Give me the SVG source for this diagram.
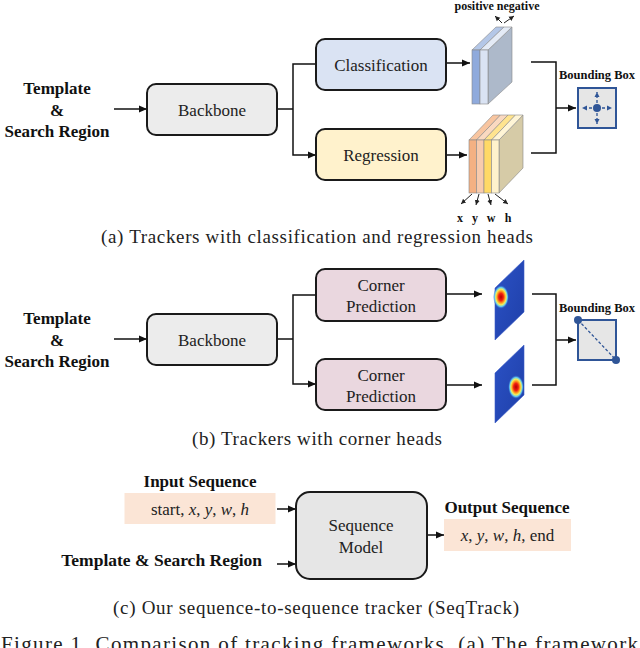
<svg xmlns="http://www.w3.org/2000/svg" width="640" height="648" viewBox="0 0 640 648">
<style>
.box{stroke:#1a1a1a;stroke-width:2}
.lbl{font-family:"Liberation Serif",serif;font-size:17px;fill:#222;text-anchor:middle}
.bold{font-family:"Liberation Serif",serif;font-weight:bold;fill:#111;text-anchor:middle}
.cap{font-family:"Liberation Serif",serif;font-size:19px;fill:#222;text-anchor:middle}
.ln{fill:none;stroke:#111;stroke-width:1.5}
.sm{fill:none;stroke:#222;stroke-width:1}
.bb{fill:#e6e6e6;stroke:#2f5597;stroke-width:2}
.dash{fill:none;stroke:#2f5597;stroke-width:1.3;stroke-dasharray:3 2}
.cube{stroke:#888;stroke-width:0.6}
.pink{fill:#fbe5d6}
</style>
<defs>
<marker id="ah" markerUnits="userSpaceOnUse" markerWidth="9" markerHeight="8" refX="8" refY="4" orient="auto"><path d="M0,0.5 L8,4 L0,7.5 z" fill="#111"/></marker>
<marker id="ahs" markerUnits="userSpaceOnUse" markerWidth="6" markerHeight="6" refX="5" refY="3" orient="auto"><path d="M0,0.5 L5,3 L0,5.5 z" fill="#222"/></marker>
<marker id="ahb" markerUnits="userSpaceOnUse" markerWidth="6" markerHeight="6" refX="5" refY="3" orient="auto"><path d="M0,0.5 L5,3 L0,5.5 z" fill="#2f5597"/></marker>
<radialGradient id="hot">
<stop offset="0" stop-color="#b00000"/>
<stop offset="0.3" stop-color="#f02010"/>
<stop offset="0.5" stop-color="#ffa020"/>
<stop offset="0.65" stop-color="#f0f060"/>
<stop offset="0.8" stop-color="#60c8f0"/>
<stop offset="1" stop-color="#2a4fc0" stop-opacity="0"/>
</radialGradient>
<linearGradient id="heat" x1="0" y1="0" x2="1" y2="1">
<stop offset="0" stop-color="#2b52c6"/>
<stop offset="1" stop-color="#1f3fa8"/>
</linearGradient>
</defs>

<g id="connectors">
<line class="ln" x1="114" y1="109" x2="147" y2="109" marker-end="url(#ah)"/>
<polyline class="ln" points="277,109 293,109"/>
<polyline class="ln" points="316,64 293,64 293,155 316,155" style="marker-start:url(#ah);marker-end:url(#ah)"/>
<line class="ln" x1="446" y1="63" x2="470" y2="63" marker-end="url(#ah)"/>
<line class="ln" x1="446" y1="155" x2="467" y2="155" marker-end="url(#ah)"/>
<polyline class="ln" points="531,62 556,62 556,153 531,153"/>
<line class="ln" x1="556" y1="108" x2="576" y2="108" marker-end="url(#ah)"/>
<line class="ln" x1="114" y1="339" x2="147" y2="339" marker-end="url(#ah)"/>
<polyline class="ln" points="277,339 293,339"/>
<polyline class="ln" points="316,295 293,295 293,384 316,384" style="marker-start:url(#ah);marker-end:url(#ah)"/>
<line class="ln" x1="446" y1="294" x2="482" y2="294" marker-end="url(#ah)"/>
<line class="ln" x1="446" y1="385" x2="482" y2="385" marker-end="url(#ah)"/>
<polyline class="ln" points="532,294 556,294 556,385 532,385"/>
<line class="ln" x1="556" y1="340" x2="576" y2="340" marker-end="url(#ah)"/>
<line class="ln" x1="277" y1="509" x2="296" y2="509" marker-end="url(#ah)"/>
<line class="ln" x1="277" y1="564" x2="296" y2="564" marker-end="url(#ah)"/>
<line class="ln" x1="427" y1="535" x2="444" y2="535" marker-end="url(#ah)"/>
</g>

<g id="a-input">
<text class="bold" font-size="17" x="57" y="94">Template</text>
<text class="bold" font-size="17" x="57" y="115.5">&amp;</text>
<text class="bold" font-size="17" x="57" y="137">Search Region</text>
</g>
<g id="a-backbone">
<rect class="box" x="147" y="84" width="130" height="51" rx="9" fill="#ececec"/>
<text class="lbl" x="212" y="115.5">Backbone</text>
</g>
<g id="a-classification">
<rect class="box" x="316" y="39" width="130" height="51" rx="9" fill="#dae3f3"/>
<text class="lbl" x="381" y="70.5">Classification</text>
</g>
<g id="a-regression">
<rect class="box" x="316" y="129" width="130" height="51" rx="9" fill="#fff2cc"/>
<text class="lbl" x="381" y="160.5">Regression</text>
</g>
<g id="a-cls-map">
<polygon class="cube" points="488,50 512,27 512,82 488,104" fill="#adb9ca"/>
<polygon class="cube" points="472,50 480,50 504,27 496,27" fill="#b4c7e7"/>
<polygon class="cube" points="480,50 488,50 512,27 504,27" fill="#e4ebf6"/>
<rect class="cube" x="472" y="50" width="8" height="54" fill="#8faadc"/>
<rect class="cube" x="480" y="50" width="8" height="54" fill="#dae3f3"/>
<line class="sm" x1="502" y1="23" x2="495" y2="16" marker-end="url(#ahs)"/>
<line class="sm" x1="504" y1="23" x2="514" y2="16" marker-end="url(#ahs)"/>
<text class="bold" font-size="12" x="497" y="10">positive negative</text>
</g>
<g id="a-reg-map">
<polygon class="cube" points="499,140 523,115 523,168 499,193" fill="#d6cba7"/>
<polygon class="cube" points="469,140 476.5,140 500.5,115 493,115" fill="#f8c5a0"/>
<polygon class="cube" points="476.5,140 484,140 508,115 500.5,115" fill="#fad9c0"/>
<polygon class="cube" points="484,140 491.5,140 515.5,115 508,115" fill="#ffe48f"/>
<polygon class="cube" points="491.5,140 499,140 523,115 515.5,115" fill="#fff5d6"/>
<rect class="cube" x="469" y="140" width="7.5" height="53" fill="#f4b183"/>
<rect class="cube" x="476.5" y="140" width="7.5" height="53" fill="#f8cbad"/>
<rect class="cube" x="484" y="140" width="7.5" height="53" fill="#ffd966"/>
<rect class="cube" x="491.5" y="140" width="7.5" height="53" fill="#fff2cc"/>
<line class="sm" x1="472" y1="194" x2="461" y2="204" marker-end="url(#ahs)"/>
<line class="sm" x1="479" y1="194" x2="476" y2="205" marker-end="url(#ahs)"/>
<line class="sm" x1="488" y1="194" x2="491" y2="205" marker-end="url(#ahs)"/>
<line class="sm" x1="495" y1="194" x2="508" y2="204" marker-end="url(#ahs)"/>
<text class="bold" font-size="12" x="460" y="222">x</text>
<text class="bold" font-size="12" x="475" y="222">y</text>
<text class="bold" font-size="12" x="491" y="222">w</text>
<text class="bold" font-size="12" x="508" y="222">h</text>
</g>
<g id="a-bbox">
<text class="bold" font-size="12.5" x="597" y="79">Bounding Box</text>
<rect class="bb" x="578" y="88" width="38" height="40"/>
<line class="dash" x1="597" y1="108" x2="597" y2="92" marker-end="url(#ahb)"/>
<line class="dash" x1="597" y1="108" x2="597" y2="124" marker-end="url(#ahb)"/>
<line class="dash" x1="597" y1="108" x2="582" y2="108" marker-end="url(#ahb)"/>
<line class="dash" x1="597" y1="108" x2="612" y2="108" marker-end="url(#ahb)"/>
<circle cx="597" cy="108" r="4" fill="#2f5597"/>
</g>
<text class="cap" x="317" y="243" textLength="432">(a) Trackers with classification and regression heads</text>

<g id="b-input">
<text class="bold" font-size="17" x="57" y="324">Template</text>
<text class="bold" font-size="17" x="57" y="345.5">&amp;</text>
<text class="bold" font-size="17" x="57" y="367">Search Region</text>
</g>
<g id="b-backbone">
<rect class="box" x="147" y="314" width="130" height="51" rx="9" fill="#ececec"/>
<text class="lbl" x="212" y="345.5">Backbone</text>
</g>
<g id="b-corner1">
<rect class="box" x="316" y="269" width="130" height="52" rx="9" fill="#ead7df"/>
<text class="lbl" x="381" y="290.5">Corner</text>
<text class="lbl" x="381" y="311.5">Prediction</text>
</g>
<g id="b-corner2">
<rect class="box" x="316" y="359" width="130" height="51" rx="9" fill="#ead7df"/>
<text class="lbl" x="381" y="380.5">Corner</text>
<text class="lbl" x="381" y="401.5">Prediction</text>
</g>
<g id="b-heat1">
<polygon points="495,288 524,260 524,312 495,340" fill="url(#heat)" stroke="#3a5cc8" stroke-width="0.6"/>
<ellipse cx="501" cy="297" rx="8" ry="12" fill="url(#hot)"/>
</g>
<g id="b-heat2">
<polygon points="495,373 524,345 524,395 495,423" fill="url(#heat)" stroke="#3a5cc8" stroke-width="0.6"/>
<ellipse cx="516" cy="387" rx="8" ry="12" fill="url(#hot)"/>
</g>
<g id="b-bbox">
<text class="bold" font-size="12.5" x="597" y="312">Bounding Box</text>
<rect class="bb" x="578" y="320" width="38" height="40"/>
<line class="dash" x1="578" y1="320" x2="616" y2="360"/>
<circle cx="578" cy="320" r="4" fill="#2f5597"/>
<circle cx="616" cy="360" r="4" fill="#2f5597"/>
</g>
<text class="cap" x="317" y="445" textLength="250">(b) Trackers with corner heads</text>

<g id="c-input">
<text class="bold" font-size="17" x="200" y="487">Input Sequence</text>
<rect class="pink" x="124.5" y="493" width="151" height="31"/>
<text class="lbl" x="200" y="515">start, <tspan font-style="italic">x</tspan>, <tspan font-style="italic">y</tspan>, <tspan font-style="italic">w</tspan>, <tspan font-style="italic">h</tspan></text>
</g>
<g id="c-template">
<text class="bold" font-size="17.5" x="262" y="566" style="text-anchor:end">Template &amp; Search Region</text>
</g>
<g id="c-model">
<rect class="box" x="296" y="492" width="131" height="87" rx="14" fill="#e6e6e6"/>
<text class="lbl" x="361" y="531">Sequence</text>
<text class="lbl" x="361" y="553">Model</text>
</g>
<g id="c-output">
<text class="bold" font-size="17" x="507" y="513">Output Sequence</text>
<rect class="pink" x="444" y="519" width="127" height="32"/>
<text class="lbl" x="507.5" y="541"><tspan font-style="italic">x</tspan>, <tspan font-style="italic">y</tspan>, <tspan font-style="italic">w</tspan>, <tspan font-style="italic">h</tspan>, end</text>
</g>
<text class="cap" x="316" y="614" textLength="406">(c) Our sequence-to-sequence tracker (SeqTrack)</text>
<text x="1" y="651" font-family="Liberation Serif, serif" font-size="21" fill="#222" textLength="637">Figure 1. Comparison of tracking frameworks. (a) The framework</text>
</svg>
